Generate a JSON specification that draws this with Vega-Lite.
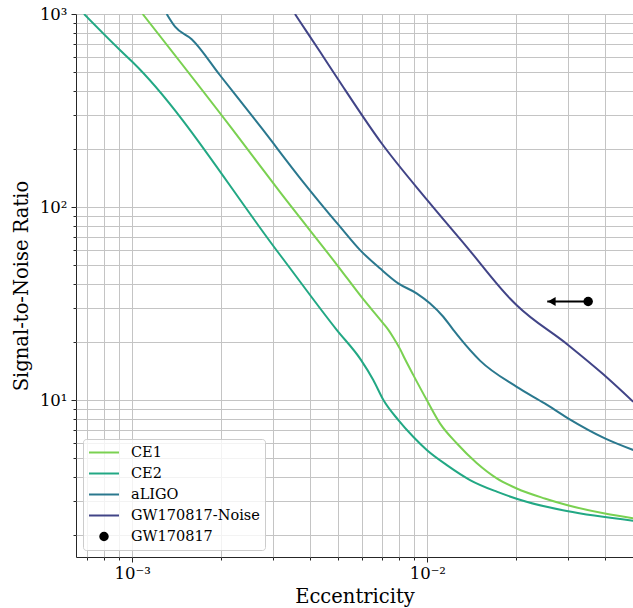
{
  "$schema": "https://vega.github.io/schema/vega-lite/v6.json",
  "width": 557,
  "height": 543,
  "autosize": {"type": "none"},
  "padding": {"left": 76, "top": 14, "right": 0, "bottom": 51},
  "background": "white",
  "config": {
    "view": {"stroke": "#262626", "strokeWidth": 1},
    "font": "DejaVu Serif",
    "axis": {
      "grid": true,
      "gridColor": "#c4c4c4",
      "gridWidth": 1,
      "domain": false,
      "tickColor": "#262626",
      "tickWidth": 1,
      "labelFont": "DejaVu Serif",
      "labelFontSize": 16.5,
      "labelColor": "black",
      "labelOverlap": false,
      "labelFlush": false,
      "titleFont": "DejaVu Serif",
      "titleFontSize": 19.5,
      "titleFontWeight": "normal",
      "titleColor": "black"
    }
  },
  "datasets": {
    "curves": [
      {"detector": "CE1", "e": 0.001084, "snr": 1000},
      {"detector": "CE1", "e": 0.00217, "snr": 256},
      {"detector": "CE1", "e": 0.00316, "snr": 120},
      {"detector": "CE1", "e": 0.005, "snr": 49},
      {"detector": "CE1", "e": 0.006, "snr": 34},
      {"detector": "CE1", "e": 0.0071, "snr": 24.9},
      {"detector": "CE1", "e": 0.00738, "snr": 23.1},
      {"detector": "CE1", "e": 0.00767, "snr": 21.1},
      {"detector": "CE1", "e": 0.00808, "snr": 18.4},
      {"detector": "CE1", "e": 0.0084, "snr": 16.3},
      {"detector": "CE1", "e": 0.00896, "snr": 13.5},
      {"detector": "CE1", "e": 0.00996, "snr": 10.0},
      {"detector": "CE1", "e": 0.01104, "snr": 7.57},
      {"detector": "CE1", "e": 0.01258, "snr": 5.97},
      {"detector": "CE1", "e": 0.0147, "snr": 4.72},
      {"detector": "CE1", "e": 0.0172, "snr": 3.93},
      {"detector": "CE1", "e": 0.0201, "snr": 3.48},
      {"detector": "CE1", "e": 0.025, "snr": 3.09},
      {"detector": "CE1", "e": 0.0297, "snr": 2.86},
      {"detector": "CE1", "e": 0.04, "snr": 2.58},
      {"detector": "CE1", "e": 0.0499, "snr": 2.44},
      {"detector": "CE2", "e": 0.000686, "snr": 1000},
      {"detector": "CE2", "e": 0.000908, "snr": 651},
      {"detector": "CE2", "e": 0.001, "snr": 566},
      {"detector": "CE2", "e": 0.00317, "snr": 56.4},
      {"detector": "CE2", "e": 0.00493, "snr": 23.1},
      {"detector": "CE2", "e": 0.00595, "snr": 16.2},
      {"detector": "CE2", "e": 0.00656, "snr": 12.7},
      {"detector": "CE2", "e": 0.0071, "snr": 10.0},
      {"detector": "CE2", "e": 0.00798, "snr": 7.87},
      {"detector": "CE2", "e": 0.00896, "snr": 6.45},
      {"detector": "CE2", "e": 0.00996, "snr": 5.51},
      {"detector": "CE2", "e": 0.01165, "snr": 4.6},
      {"detector": "CE2", "e": 0.01396, "snr": 3.85},
      {"detector": "CE2", "e": 0.0172, "snr": 3.35},
      {"detector": "CE2", "e": 0.0217, "snr": 2.97},
      {"detector": "CE2", "e": 0.0297, "snr": 2.66},
      {"detector": "CE2", "e": 0.0499, "snr": 2.37},
      {"detector": "aLIGO", "e": 0.001308, "snr": 1000},
      {"detector": "aLIGO", "e": 0.001396, "snr": 859},
      {"detector": "aLIGO", "e": 0.00159, "snr": 740},
      {"detector": "aLIGO", "e": 0.00198, "snr": 483},
      {"detector": "aLIGO", "e": 0.002746, "snr": 256},
      {"detector": "aLIGO", "e": 0.00375, "snr": 138},
      {"detector": "aLIGO", "e": 0.00506, "snr": 79.1},
      {"detector": "aLIGO", "e": 0.00592, "snr": 59.8},
      {"detector": "aLIGO", "e": 0.00691, "snr": 48.1},
      {"detector": "aLIGO", "e": 0.00797, "snr": 40.2},
      {"detector": "aLIGO", "e": 0.0092, "snr": 35.7},
      {"detector": "aLIGO", "e": 0.0102, "snr": 31.7},
      {"detector": "aLIGO", "e": 0.01133, "snr": 27.0},
      {"detector": "aLIGO", "e": 0.01225, "snr": 23.1},
      {"detector": "aLIGO", "e": 0.0129, "snr": 20.9},
      {"detector": "aLIGO", "e": 0.01509, "snr": 16.0},
      {"detector": "aLIGO", "e": 0.0201, "snr": 11.7},
      {"detector": "aLIGO", "e": 0.025, "snr": 9.6},
      {"detector": "aLIGO", "e": 0.03, "snr": 8.04},
      {"detector": "aLIGO", "e": 0.04, "snr": 6.33},
      {"detector": "aLIGO", "e": 0.0499, "snr": 5.51},
      {"detector": "GW170817-Noise", "e": 0.00356, "snr": 1000},
      {"detector": "GW170817-Noise", "e": 0.0037, "snr": 915},
      {"detector": "GW170817-Noise", "e": 0.00433, "snr": 637},
      {"detector": "GW170817-Noise", "e": 0.00499, "snr": 458},
      {"detector": "GW170817-Noise", "e": 0.007, "snr": 214},
      {"detector": "GW170817-Noise", "e": 0.01, "snr": 108.6},
      {"detector": "GW170817-Noise", "e": 0.0136, "snr": 62.2},
      {"detector": "GW170817-Noise", "e": 0.01907, "snr": 33.6},
      {"detector": "GW170817-Noise", "e": 0.0201, "snr": 31.0},
      {"detector": "GW170817-Noise", "e": 0.03, "snr": 19.3},
      {"detector": "GW170817-Noise", "e": 0.0395, "snr": 13.6},
      {"detector": "GW170817-Noise", "e": 0.0499, "snr": 9.8}
    ],
    "obs": [
      {"event": "GW170817", "e": 0.0351, "e_limit": 0.0255, "snr": 32.4}
    ]
  },
  "layer": [
    {
      "data": {"name": "curves"},
      "mark": {"type": "line", "strokeWidth": 2, "clip": true, "interpolate": "monotone"},
      "encoding": {
        "x": {
          "field": "e", "type": "quantitative", "title": "Eccentricity",
          "scale": {"type": "log", "domain": [0.0006445, 0.04981], "nice": false},
          "axis": {
            "values": [0.0007, 0.0008, 0.0009, 0.001, 0.002, 0.003, 0.004, 0.005, 0.006, 0.007, 0.008, 0.009, 0.01, 0.02, 0.03, 0.04],
            "labelExpr": "abs(datum.value-0.001)<1e-12 ? '10⁻³' : (abs(datum.value-0.01)<1e-12 ? '10⁻²' : '')",
            "tickSize": {"condition": {"test": "abs(datum.value-0.001)<1e-12 || abs(datum.value-0.01)<1e-12", "value": 5}, "value": 3},
            "labelPadding": 3,
            "titlePadding": 6
          }
        },
        "y": {
          "field": "snr", "type": "quantitative", "title": "Signal-to-Noise Ratio",
          "scale": {"type": "log", "domain": [1.537, 1000], "nice": false},
          "axis": {
            "values": [2, 3, 4, 5, 6, 7, 8, 9, 10, 20, 30, 40, 50, 60, 70, 80, 90, 100, 200, 300, 400, 500, 600, 700, 800, 900, 1000],
            "labelExpr": "datum.value == 10 ? '10¹' : (datum.value == 100 ? '10²' : (datum.value == 1000 ? '10³' : ''))",
            "tickSize": {"condition": {"test": "datum.value == 10 || datum.value == 100 || datum.value == 1000", "value": 5}, "value": 3},
            "labelPadding": 4,
            "titlePadding": 8
          }
        },
        "color": {
          "field": "detector", "type": "nominal",
          "scale": {
            "domain": ["CE1", "CE2", "aLIGO", "GW170817-Noise", "GW170817"],
            "range": ["#7ad151", "#22a884", "#2a788e", "#414487", "#000000"]
          },
          "legend": {
            "title": null,
            "orient": "bottom-left",
            "offset": 7,
            "fillColor": "rgba(255,255,255,0.8)",
            "strokeColor": "#cccccc",
            "cornerRadius": 3,
            "padding": 5,
            "labelFont": "DejaVu Serif",
            "labelFontSize": 14.5,
            "labelColor": "black",
            "labelOffset": 26,
            "rowPadding": 6,
            "symbolSize": 225,
            "symbolStrokeWidth": 2,
            "symbolType": "M-1,0H3",
            "encode": {
              "symbols": {
                "update": {
                  "shape": {"signal": "datum.value === 'GW170817' ? 'M0.5,0A0.5,0.5,0,1,1,1.5,0A0.5,0.5,0,1,1,0.5,0Z' : 'M-1,0H3'"},
                  "fill": {"signal": "datum.value === 'GW170817' ? 'black' : 'transparent'"},
                  "stroke": {"scale": "color", "field": "value"},
                  "strokeWidth": {"value": 2},
                  "opacity": {"value": 1}
                }
              }
            }
          }
        }
      }
    },
    {
      "data": {"name": "obs"},
      "mark": {"type": "rule", "color": "black", "strokeWidth": 2},
      "encoding": {
        "x": {"field": "e_limit", "type": "quantitative", "title": "Eccentricity"},
        "x2": {"field": "e"},
        "y": {"field": "snr", "type": "quantitative", "title": "Signal-to-Noise Ratio"}
      }
    },
    {
      "data": {"name": "obs"},
      "mark": {"type": "point", "shape": "triangle-left", "filled": true, "color": "black", "size": 81, "opacity": 1, "strokeWidth": 0, "xOffset": 4.5},
      "encoding": {
        "x": {"field": "e_limit", "type": "quantitative", "title": "Eccentricity"},
        "y": {"field": "snr", "type": "quantitative", "title": "Signal-to-Noise Ratio"}
      }
    },
    {
      "data": {"name": "obs"},
      "mark": {"type": "point", "shape": "circle", "filled": true, "color": "black", "size": 90, "opacity": 1, "strokeWidth": 0},
      "encoding": {
        "x": {"field": "e", "type": "quantitative", "title": "Eccentricity"},
        "y": {"field": "snr", "type": "quantitative", "title": "Signal-to-Noise Ratio"}
      }
    }
  ]
}
